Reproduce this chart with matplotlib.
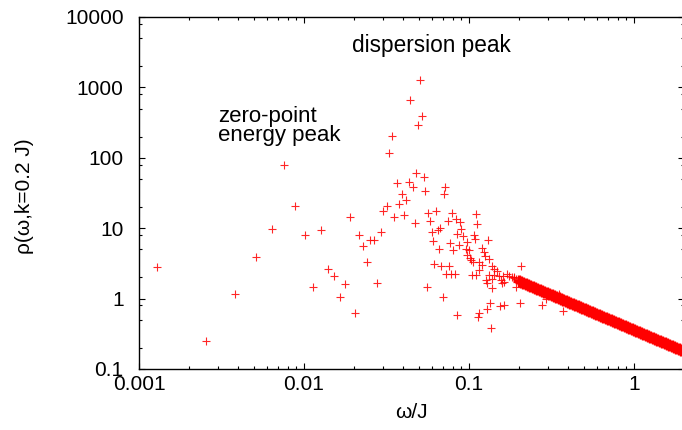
import matplotlib
matplotlib.use('Agg')
import matplotlib.pyplot as plt
from matplotlib.ticker import LogLocator, NullFormatter, FixedLocator, FixedFormatter

plt.rcParams['font.family'] = ['Liberation Sans', 'DejaVu Sans']

# scattered spectral weight (omega/J, rho)
omega_pts = [0.00128, 0.00256, 0.00383, 0.0051, 0.00637, 0.00759, 0.00885, 0.01008,
             0.01265, 0.01137, 0.0140, 0.01522, 0.01648, 0.01778, 0.01894, 0.02036,
             0.02152, 0.02279, 0.02408, 0.02518, 0.02654, 0.02783, 0.02914, 0.03025,
             0.03176, 0.03538, 0.03664, 0.03794, 0.03912, 0.04028, 0.04165, 0.04313,
             0.0456, 0.04688, 0.04794, 0.05318, 0.05031, 0.04422, 0.05201, 0.0492,
             0.03408, 0.03301, 0.05423, 0.07195, 0.07094, 0.05678, 0.06323, 0.0789,
             0.1107, 0.05782, 0.0743, 0.08346, 0.08862, 0.1118, 0.05946, 0.06465,
             0.06683, 0.08948, 0.08463, 0.09149, 0.1072, 0.06028, 0.07681, 0.08652,
             0.09671, 0.1087, 0.1308, 0.06552, 0.08041, 0.09539, 0.09945, 0.1208,
             0.1232, 0.09766, 0.1014, 0.1028, 0.1254, 0.1326, 0.1057, 0.1154,
             0.1208, 0.06173, 0.06806, 0.07574, 0.1388, 0.1422, 0.1476, 0.1154,
             0.07264, 0.07785, 0.08263, 0.1042, 0.1102, 0.1326, 0.1422, 0.1524,
             0.1611, 0.1266, 0.1388, 0.1561, 0.1295, 0.1596, 0.1377, 0.05546,
             0.06929, 0.1345, 0.1295, 0.1545, 0.1627, 0.1154, 0.1138, 0.08463,
             0.1364, 0.2061, 0.2041, 0.2783, 0.3711, 0.3510, 0.1922, 0.1634,
             0.1878, 0.2942, 0.170, 0.176, 0.182, 0.188, 0.194]
rho_pts = [2.81, 0.247, 1.15, 3.90, 9.75, 79.0, 20.5, 7.88,
           9.37, 1.48, 2.62, 2.07, 1.05, 1.61, 14.3, 0.618,
           7.96, 5.59, 3.31, 6.76, 6.76, 1.65, 8.83, 17.7,
           20.7, 14.3, 43.4, 21.8, 30.6, 15.4, 25.2, 45.3,
           38.9, 12.0, 60.3, 52.8, 1274.0, 669.0, 392.0, 292.0,
           202.0, 116.0, 34.1, 38.9, 30.9, 16.6, 17.4, 16.3,
           15.9, 12.7, 12.8, 13.6, 12.1, 11.5, 8.83, 9.42,
           9.97, 9.75, 8.27, 7.74, 7.93, 6.58, 6.10, 5.71,
           6.30, 6.96, 6.87, 5.07, 4.90, 5.01, 4.90, 5.28,
           4.63, 4.16, 3.74, 3.53, 4.03, 3.61, 3.28, 3.31,
           3.00, 3.10, 2.93, 2.90, 2.90, 2.63, 2.49, 2.55,
           2.24, 2.24, 2.24, 2.16, 2.16, 2.16, 2.16, 2.09,
           2.09, 1.84, 1.88, 1.84, 1.65, 1.65, 1.40, 1.45,
           1.05, 0.875, 0.711, 0.778, 0.819, 0.618, 0.553, 0.590,
           0.382, 2.90, 0.875, 0.811, 0.673, 1.16, 1.48, 1.74,
           2.05, 0.977, 2.20, 2.10, 2.05, 1.95, 1.90]

# dense high-frequency tail, read along the band
omega_tail = [0.20, 0.207, 0.214, 0.221, 0.228, 0.236, 0.244, 0.252, 0.26, 0.269,
              0.278, 0.287, 0.297, 0.307, 0.317, 0.328, 0.339, 0.35, 0.362, 0.374,
              0.387, 0.40, 0.413, 0.427, 0.441, 0.456, 0.471, 0.487, 0.503, 0.52,
              0.537, 0.555, 0.574, 0.593, 0.613, 0.633, 0.654, 0.676, 0.699, 0.722,
              0.746, 0.771, 0.797, 0.823, 0.851, 0.879, 0.909, 0.939, 0.97, 1.0,
              1.035, 1.07, 1.105, 1.14, 1.18, 1.22, 1.26, 1.30, 1.345, 1.39,
              1.435, 1.485, 1.535, 1.585, 1.64, 1.695, 1.75, 1.81, 1.87, 1.93, 2.0]
rho_tail = [1.80, 1.74, 1.68, 1.63, 1.58, 1.53, 1.48, 1.43, 1.38, 1.34,
            1.29, 1.25, 1.21, 1.17, 1.14, 1.10, 1.06, 1.03, 0.99, 0.96,
            0.93, 0.90, 0.87, 0.84, 0.82, 0.79, 0.76, 0.74, 0.72, 0.69,
            0.67, 0.65, 0.63, 0.61, 0.59, 0.57, 0.55, 0.53, 0.515, 0.50,
            0.48, 0.47, 0.45, 0.44, 0.42, 0.41, 0.40, 0.38, 0.37, 0.36,
            0.35, 0.335, 0.325, 0.315, 0.305, 0.295, 0.285, 0.277, 0.268, 0.259,
            0.251, 0.242, 0.235, 0.227, 0.22, 0.212, 0.206, 0.199, 0.193, 0.187, 0.18]

xticks = [0.001, 0.01, 0.1, 1]
xticklabels = ['0.001', '0.01', '0.1', '1']
yticks = [0.1, 1, 10, 100, 1000, 10000]
yticklabels = ['0.1', '1', '10', '100', '1000', '10000']

W, H = 682, 430
fig = plt.figure(figsize=(W / 100, H / 100), dpi=100)
ax = fig.add_axes([139 / W, 1 - 369 / H, (683.5 - 139) / W, (369 - 17) / H])

red = '#ff0000'
ax.plot(omega_tail, rho_tail, '+', color=red, ms=8, mew=2.4)
ax.plot(omega_pts, rho_pts, '+', color=red, ms=5.5, mew=0.8, alpha=0.85)

ax.set_xscale('log')
ax.set_yscale('log')
ax.set_xlim(0.001, 2)
ax.set_ylim(0.1, 10000)

ax.xaxis.set_major_locator(FixedLocator(xticks))
ax.xaxis.set_major_formatter(FixedFormatter(xticklabels))
ax.yaxis.set_major_locator(FixedLocator(yticks))
ax.yaxis.set_major_formatter(FixedFormatter(yticklabels))
ax.xaxis.set_minor_locator(LogLocator(base=10, subs=range(2, 10), numticks=20))
ax.yaxis.set_minor_locator(LogLocator(base=10, subs=(2, 5, 8), numticks=20))
ax.xaxis.set_minor_formatter(NullFormatter())
ax.yaxis.set_minor_formatter(NullFormatter())

ax.tick_params(which='both', direction='in', top=True, right=True, color='black', width=0.8)
ax.tick_params(which='major', length=4.5, labelsize=15)
ax.tick_params(which='minor', length=2.3)
ax.tick_params(axis='x', which='major', pad=4)
ax.tick_params(axis='y', which='major', pad=11)
for s in ax.spines.values():
    s.set_linewidth(1.0)

ax.set_xlabel('ω/J', fontsize=15, va='center')
ax.xaxis.set_label_coords(0.5, (369 - 413) / 352)
ax.set_ylabel('ρ(ω,k=0.2 J)', fontsize=15, va='center', ha='center')
ax.yaxis.set_label_coords((25 - 139) / 544.5, (369 - 196) / 352)

fig.text(352 / W, 1 - 51.7 / H, 'dispersion peak', fontsize=16.3, ha='left', va='baseline')
fig.text(217.7 / W, 1 - 121.7 / H, 'zero-point', fontsize=16, ha='left', va='baseline')
fig.text(217.7 / W, 1 - 140.7 / H, 'energy peak', fontsize=16, ha='left', va='baseline')

fig.savefig('out.png', dpi=100)
